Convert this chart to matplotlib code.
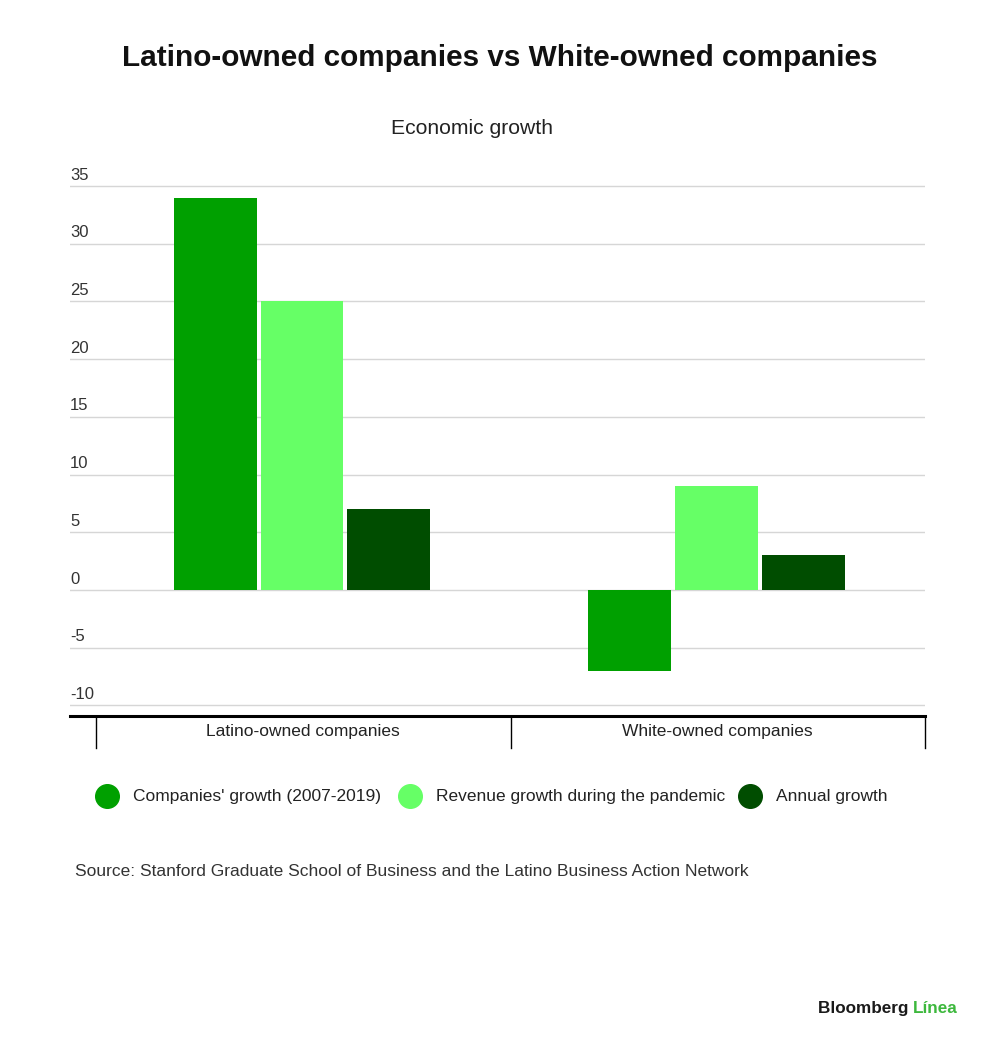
import matplotlib.pyplot as plt
import numpy as np
from matplotlib.lines import Line2D

plt.rcParams['font.family'] = ['Liberation Sans', 'DejaVu Sans']

# data
categories = ['Latino-owned companies', 'White-owned companies']
series_names = ["Companies' growth (2007-2019)", 'Revenue growth during the pandemic', 'Annual growth']
companies_growth = [34, -7]
revenue_growth = [25, 9]
annual_growth = [7, 3]
yticks = [-10, -5, 0, 5, 10, 15, 20, 25, 30, 35]

colors = ['#00a000', '#66ff66', '#004d00']

W, H = 1000, 1052
fig = plt.figure(figsize=(10, 10.52), dpi=100)

# plot area in pixels: x 70..925, y 176 .. 716 (bottom line)
ax_l, ax_r = 70, 925
ax_top, ax_bot = 176, 716
ax = fig.add_axes([ax_l / W, 1 - ax_bot / H, (ax_r - ax_l) / W, (ax_bot - ax_top) / H])

px_per_unit = (590 - 186) / 35.0
ymin = -(ax_bot - 590) / px_per_unit
ymax = (590 - ax_top) / px_per_unit
ax.set_ylim(ymin, ymax)

cat_w = (ax_r - 96) / 2.0
ax.set_xlim(-0.5 - (96 - ax_l) / cat_w, 1.5)

x = np.arange(len(categories))
bw = 0.2
step = 0.209
for i, (vals, c) in enumerate(zip([companies_growth, revenue_growth, annual_growth], colors)):
    ax.bar(x + (i - 1) * step - 0.003, vals, width=bw, color=c, zorder=3)

# gridlines + labels sitting above them
for t in yticks:
    ax.axhline(t, color='#d6d6d6', lw=1, zorder=1)
    ax.text(0.0, t + 0.3, str(t), transform=ax.get_yaxis_transform(),
            ha='left', va='bottom', fontsize=12, color='#333333')

for s in ax.spines.values():
    s.set_visible(False)
ax.set_xticks([])
ax.set_yticks([])

# bottom axis line and category dividers
ax.axhline(ymin, color='black', lw=2.2, zorder=4, clip_on=False)
for b in [-0.5, 0.5, 1.5]:
    ax.plot([b, b], [ymin, ymin - 32 / px_per_unit], color='black', lw=1, clip_on=False)
for xi, lab in zip(x, categories):
    ax.text(xi, ymin - 15 / px_per_unit, lab, ha='center', va='center', fontsize=12.5, color='#222222')

# titles
fig.text(500 / W, 1 - 58 / H, 'Latino-owned companies vs White-owned companies',
         ha='center', va='center', fontsize=21.4, fontweight='bold', color='#111111')
fig.text(472 / W, 1 - 129 / H, 'Economic growth', ha='center', va='center',
         fontsize=15.2, color='#222222')

# legend
leg_x = [107, 410, 750]
for lx, name, c in zip(leg_x, series_names, colors):
    fig.add_artist(Line2D([lx / W], [1 - 796 / H], marker='o', markersize=17,
                          color=c, linestyle='none'))
    fig.text((lx + 26) / W, 1 - 796 / H, name, ha='left', va='center',
             fontsize=12.5, color='#222222')

fig.text(75 / W, 1 - 871 / H,
         'Source: Stanford Graduate School of Business and the Latino Business Action Network',
         ha='left', va='center', fontsize=12.5, color='#333333')

# logo
t1 = fig.text(818 / W, 1 - 1013 / H, 'Bloomberg ', ha='left', va='baseline',
              fontsize=12.3, fontweight='bold', color='#1a1a1a')
fig.canvas.draw()
bb = t1.get_window_extent()
fig.text(bb.x1 / W, 1 - 1013 / H, 'Línea', ha='left', va='baseline',
         fontsize=12.3, fontweight='bold', color='#3db83d')

fig.savefig('out.png', dpi=100)
